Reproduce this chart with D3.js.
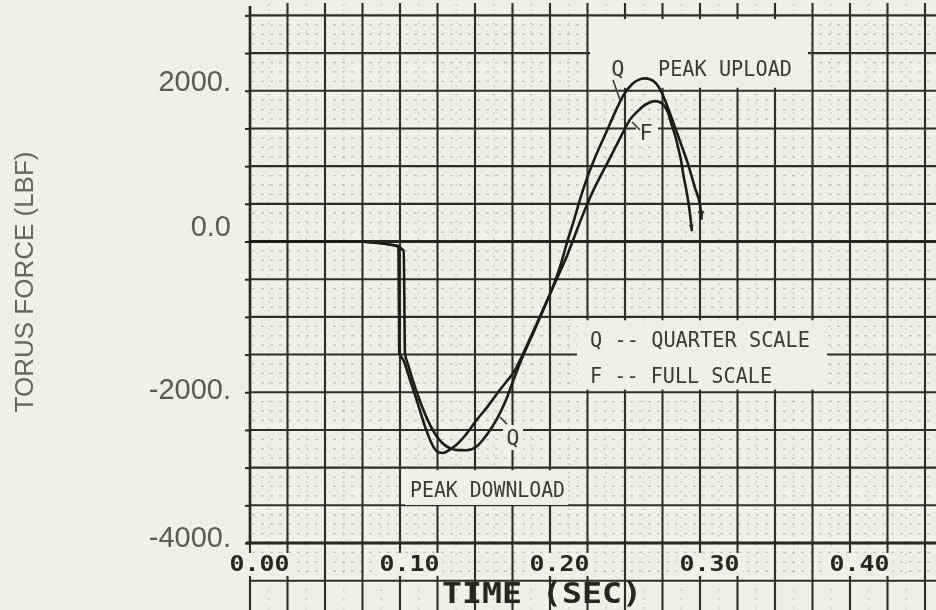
<!DOCTYPE html>
<html>
<head>
<meta charset="utf-8">
<script src="https://cdn.jsdelivr.net/npm/d3@7"></script>
<style>
  html, body { margin: 0; padding: 0; background: #efefed; }
  svg { display: block; }
</style>
</head>
<body>
<svg id="chart" width="936" height="610"></svg>
<script>
// Torus force history, quarter-scale (Q) and full-scale (F) test
const timeQ  = [0, 0.070, 0.096, 0.1025, 0.1033, 0.1055, 0.109, 0.113, 0.118, 0.123, 0.128, 0.133, 0.1385, 0.1444,
                0.151, 0.158, 0.165, 0.1705, 0.1756, 0.182, 0.190, 0.197, 0.2044, 0.2080, 0.2115, 0.2155, 0.220,
                0.2255, 0.231, 0.2378, 0.2435, 0.2489, 0.2545, 0.259, 0.2633, 0.267, 0.2705, 0.274, 0.280,
                0.2867, 0.2922, 0.2967, 0.300, 0.3011];
const forceQ = [0, 0, -50, -120, -1480, -1640, -1870, -2100, -2350, -2540, -2670, -2740, -2768, -2770,
                -2720, -2560, -2340, -2110, -1840, -1520, -1160, -840, -470, -250, 0, 250, 560,
                884, 1160, 1462, 1720, 1940, 2084, 2145, 2164, 2150, 2100, 1996, 1700,
                1329, 1017, 707, 484, 307];

const timeF  = [0, 0.070, 0.096, 0.0990, 0.0995, 0.1022, 0.1067, 0.1111, 0.1167, 0.1222, 0.1256, 0.1285, 0.133,
                0.138, 0.144, 0.151, 0.158, 0.165, 0.1705, 0.1756, 0.182, 0.190, 0.197, 0.2044, 0.2105, 0.216,
                0.222, 0.228, 0.2345, 0.2395, 0.2445, 0.249, 0.2533, 0.258, 0.2622, 0.2665, 0.270, 0.273,
                0.2755, 0.2785, 0.2811, 0.2835, 0.2855, 0.2875, 0.2889, 0.2905, 0.2922, 0.2935, 0.2945];
const forceF = [0, 0, -50, -60, -1480, -1572, -1837, -2102, -2456, -2721, -2795, -2805, -2765,
                -2690, -2560, -2370, -2200, -2010, -1870, -1740, -1490, -1140, -830, -500, -230, 50,
                360, 640, 900, 1090, 1284, 1460, 1617, 1720, 1796, 1845, 1862, 1850,
                1817, 1720, 1551, 1400, 1240, 1060, 884, 720, 529, 340, 151];

const xTickValues = [0, 0.1, 0.2, 0.3, 0.4];
const xTickLabels = ["0.00", "0.10", "0.20", "0.30", "0.40"];
const yTickValues = [2000, 0, -2000, -4000];
const yTickLabels = ["2000.", "0.0", "-2000.", "-4000."];

const W = 936, H = 610;
const paper = "#efefed";
const ink = "#262626";

const svg = d3.select("#chart");
const x = d3.scaleLinear().domain([0, 0.45]).range([250, 925]);
const y = d3.scaleLinear().domain([-4000, 3000]).range([543, 15.4]);

const defs = svg.append("defs");
defs.append("filter").attr("id", "soft")
  .append("feGaussianBlur").attr("stdDeviation", 0.45);

function arrow(id, len, wid) {
  defs.append("marker")
    .attr("id", id)
    .attr("viewBox", "0 0 10 10")
    .attr("refX", 9).attr("refY", 5)
    .attr("markerUnits", "userSpaceOnUse")
    .attr("markerWidth", len).attr("markerHeight", wid)
    .attr("orient", "auto")
    .append("path").attr("d", "M0,1 L10,5 L0,9 Z").attr("fill", ink);
}
arrow("arrowQ", 18, 8);
arrow("arrowF", 10, 6);

svg.append("rect").attr("width", W).attr("height", H).attr("fill", paper);

const root = svg.append("g").attr("filter", "url(#soft)");

// faint fine ruling of the graph paper
const fine = root.append("g").attr("stroke", "#6f6f6f").attr("stroke-width", 1.3);
fine.selectAll("line.fh")
  .data(d3.range(-36, 25).map(i => i * 125).filter(v => v % 500 !== 0))
  .join("line").attr("class", "fh")
  .attr("x1", 252).attr("x2", W)
  .attr("y1", d => y(d)).attr("y2", d => y(d))
  .attr("stroke-dasharray", "3 6").attr("opacity", 0.35);
fine.selectAll("line.fv")
  .data(d3.range(0, 37).map(i => i * 0.0125 + 0.0125).filter((t, i) => i % 2 === 0))
  .join("line").attr("class", "fv")
  .attr("x1", d => x(d)).attr("x2", d => x(d))
  .attr("y1", 4).attr("y2", H)
  .attr("stroke-dasharray", "2 7").attr("opacity", 0.25);

// main ruling every 0.025 s and 500 lbf
const grid = root.append("g").attr("stroke", "#2e2e2e").attr("stroke-width", 2.1);
grid.selectAll("line.gv")
  .data(d3.range(1, 19).map(i => i * 0.025))
  .join("line").attr("class", "gv")
  .attr("x1", d => x(d)).attr("x2", d => x(d))
  .attr("y1", 3).attr("y2", H);
grid.selectAll("line.gh")
  .data(d3.range(-9, 7).map(i => i * 500).filter(v => v !== 0 && v !== -4000))
  .join("line").attr("class", "gh")
  .attr("x1", x(0)).attr("x2", W)
  .attr("y1", d => y(d)).attr("y2", d => y(d));
grid.append("line")
  .attr("x1", x(0)).attr("x2", x(0))
  .attr("y1", y(-4000)).attr("y2", H);

// clear panels behind the annotations
const knock = root.append("g").attr("fill", paper);
function clearBox(t0, t1, v0, v1) {
  knock.append("rect")
    .attr("x", x(t0)).attr("width", x(t1) - x(t0))
    .attr("y", y(v0)).attr("height", y(v1) - y(v0));
}
clearBox(0.2267, 0.372, 2950, 2040);    // peak upload
clearBox(0.218, 0.3847, -1045, -1965);  // key
clearBox(0.1033, 0.212, -3035, -3495);  // peak download
clearBox(0.1687, 0.182, -2435, -2767);  // Q near trough
clearBox(0.2573, 0.272, 1586, 1307);    // F near crest

// axes
const axes = root.append("g");
axes.append("line")
  .attr("x1", x(0)).attr("x2", W)
  .attr("y1", y(0)).attr("y2", y(0))
  .attr("stroke", ink).attr("stroke-width", 3);
axes.append("line")
  .attr("x1", x(0) - 4).attr("x2", W)
  .attr("y1", y(-4000)).attr("y2", y(-4000))
  .attr("stroke", ink).attr("stroke-width", 3);
axes.append("line")
  .attr("x1", x(0)).attr("x2", x(0))
  .attr("y1", 6).attr("y2", y(-4000))
  .attr("stroke", ink).attr("stroke-width", 2.6);

// value labels sit slightly off their ticks on the plotter output
const yLabelNudge = new Map([[2000, 0], [0, -5], [-2000, 7], [-4000, 4]]);
const yLabel = new Map(yTickValues.map((v, i) => [v, yTickLabels[i]]));
const yAxis = d3.axisLeft(y)
  .tickValues(d3.range(-4000, 3001, 500))
  .tickSize(5).tickSizeOuter(0).tickPadding(14)
  .tickFormat(d => yLabel.get(d) || "");
const yg = axes.append("g").attr("transform", `translate(${x(0)},0)`).call(yAxis);
yg.select(".domain").remove();
yg.selectAll(".tick line").attr("stroke", ink).attr("stroke-width", 2);
yg.selectAll(".tick text")
  .attr("font-family", "'Liberation Sans', Arial, sans-serif")
  .attr("font-size", 29).attr("fill", "#5a5a5a")
  .attr("dy", "-0.02em")
  .attr("y", d => yLabelNudge.get(d) || 0);

const xLabel = new Map(xTickValues.map((v, i) => [v, xTickLabels[i]]));
const xAxis = d3.axisBottom(x)
  .tickValues(xTickValues)
  .tickSize(0).tickSizeOuter(0).tickPadding(13)
  .tickFormat(d => xLabel.get(d));
const xg = root.append("g").attr("transform", `translate(0,${y(-4000)})`).call(xAxis);
xg.select(".domain").remove();
xg.selectAll(".tick text")
  .attr("font-family", "'DejaVu Sans Mono', monospace")
  .attr("font-weight", "bold")
  .attr("font-size", 21).attr("fill", "#262626")
  .attr("dx", 9)
  .attr("textLength", 60).attr("lengthAdjust", "spacingAndGlyphs");

// clear paper behind the time labels
xg.selectAll(".tick").each(function () {
  const t = d3.select(this);
  const b = t.select("text").node().getBBox();
  t.insert("rect", "text")
    .attr("x", b.x - 3).attr("y", b.y + 1).attr("width", b.width + 6).attr("height", b.height - 1)
    .attr("fill", paper);
});

// force traces
const line = d3.line()
  .x(d => x(d[0])).y(d => y(d[1]))
  .curve(d3.curveMonotoneX);
const traces = root.append("g").attr("fill", "none").attr("stroke", "#1c1c1c")
  .attr("stroke-width", 2.6).attr("stroke-linejoin", "round").attr("stroke-linecap", "round");
traces.append("path").datum(d3.zip(timeF, forceF)).attr("d", line).attr("marker-end", "url(#arrowF)");
traces.append("path").datum(d3.zip(timeQ, forceQ)).attr("d", line).attr("marker-end", "url(#arrowQ)");

// annotations
const note = root.append("g")
  .attr("font-family", "'DejaVu Sans Mono', monospace")
  .attr("font-size", 22).attr("fill", "#3a3a3a");
function label(txt, t, v, len, anchor) {
  const el = note.append("text").attr("x", x(t)).attr("y", y(v)).text(txt)
    .attr("text-anchor", anchor || "start");
  if (len) el.attr("textLength", len).attr("lengthAdjust", "spacingAndGlyphs");
  return el;
}
function leader(t0, v0, t1, v1) {
  note.append("line")
    .attr("x1", x(t0)).attr("y1", y(v0)).attr("x2", x(t1)).attr("y2", y(v1))
    .attr("stroke", "#3a3a3a").attr("stroke-width", 1.6);
}
label("Q", 0.2453, 2196, null, "middle");
label("PEAK UPLOAD", 0.272, 2196, 134);
leader(0.242, 2143, 0.2467, 1877);
label("F", 0.264, 1347, null, "middle");
leader(0.2547, 1586, 0.260, 1479);
label("Q -- QUARTER SCALE", 0.2267, -1400, 220);
label("F -- FULL SCALE", 0.2267, -1877, 182);
label("PEAK DOWNLOAD", 0.1067, -3390, 155);
label("Q", 0.1753, -2700, null, "middle");
leader(0.1667, -2329, 0.1713, -2422);

// axis titles
root.append("text")
  .attr("x", 442).attr("y", 603)
  .attr("font-family", "'DejaVu Sans Mono', monospace")
  .attr("font-weight", "bold").attr("font-size", 28).attr("fill", "#262626")
  .attr("textLength", 200).attr("lengthAdjust", "spacingAndGlyphs")
  .text("TIME (SEC)");

root.append("text")
  .attr("transform", "translate(33,282) rotate(-90)")
  .attr("text-anchor", "middle")
  .attr("font-family", "'Liberation Sans', Arial, sans-serif")
  .attr("font-size", 26).attr("fill", "#666")
  .text("TORUS FORCE (LBF)");
</script>
</body>
</html>
